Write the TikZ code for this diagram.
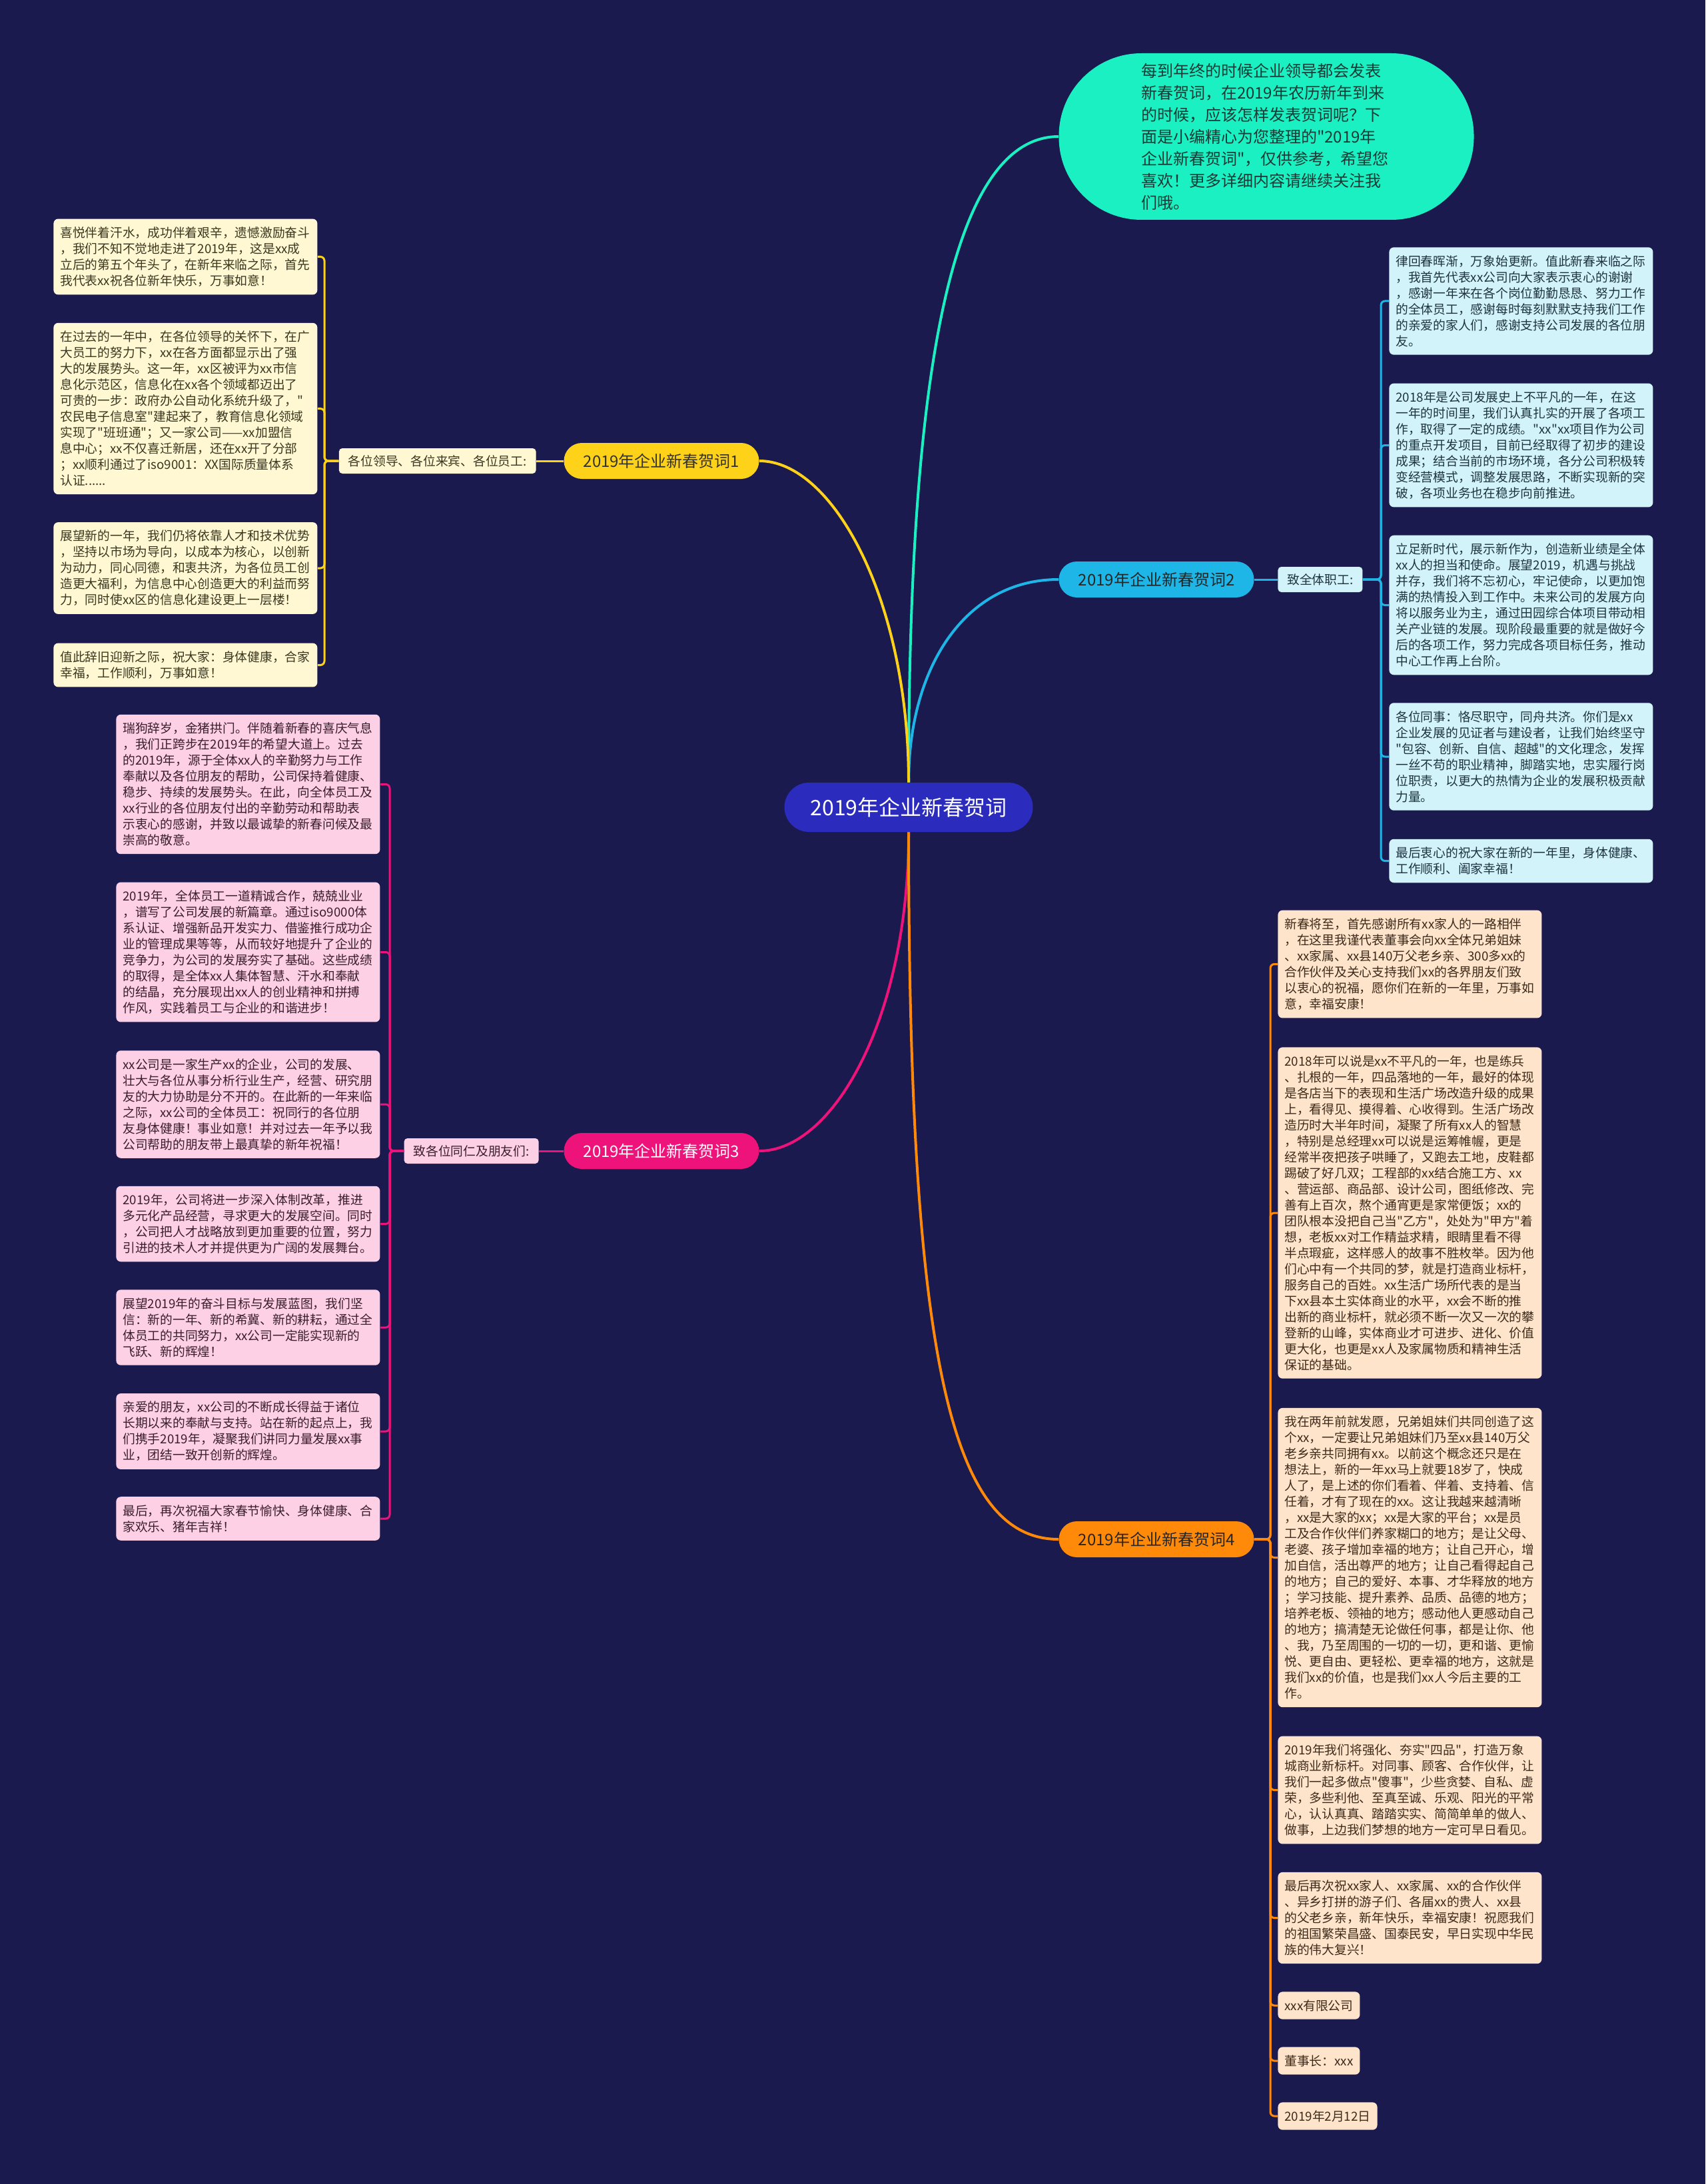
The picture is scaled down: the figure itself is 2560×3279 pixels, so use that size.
\documentclass[tikz,border=0pt]{standalone}
\usepackage{fontspec}
\setmainfont{Noto Sans CJK SC}[Ligatures=TeXOff]
\definecolor{bg}{HTML}{1B1A4F}
\definecolor{cfill}{HTML}{2B2BBE}
\definecolor{efill}{HTML}{1AF0C2}
\definecolor{etext}{HTML}{1A3A36}
\definecolor{cA}{HTML}{FFD21A}
\definecolor{cB}{HTML}{1DB6E6}
\definecolor{cC}{HTML}{EE137B}
\definecolor{cD}{HTML}{FF8A0A}
\definecolor{lA}{HTML}{FFF8D2}
\definecolor{lB}{HTML}{D3F3FB}
\definecolor{lC}{HTML}{FDD0E5}
\definecolor{lD}{HTML}{FEE4CB}
\definecolor{tA}{HTML}{3A3720}
\definecolor{tB}{HTML}{1E3340}
\definecolor{tC}{HTML}{3A1E2C}
\definecolor{tD}{HTML}{3D2A1A}
\newcommand{\leaffont}{\fontsize{9.375pt}{12pt}\selectfont}
\tikzset{
  leafbase/.style={rounded corners=3.5pt, inner xsep=5pt, inner ysep=6pt, text width=188pt, align=left, font=\leaffont, anchor=west},
  smallleaf/.style={rounded corners=3.5pt, inner xsep=5pt, inner ysep=6pt, align=left, font=\leaffont, anchor=west},
  leafA/.style={leafbase, fill=lA, text=tA},
  leafB/.style={leafbase, fill=lB, text=tB},
  leafC/.style={leafbase, fill=lC, text=tC},
  leafD/.style={leafbase, fill=lD, text=tD},
  labelbox/.style={rounded corners=2.5pt, inner xsep=7pt, inner ysep=2pt, minimum height=19pt, font=\leaffont},
  branchbox/.style={rounded corners=13.5pt, minimum width=146.5pt, minimum height=27pt, inner sep=0pt, font=\fontsize{12pt}{14pt}\selectfont},
  mainline/.style={line width=2pt},
  brline/.style={line width=1.5pt, rounded corners=3pt},
}
\begin{document}
\begin{tikzpicture}[x=0.5pt, y=-0.5pt]
\useasboundingbox (0,0) rectangle (2560,3279);
\fill[bg] (0,0) rectangle (2560,3279);

% center
\node[fill=cfill, text=white, rounded corners=18.5pt, minimum width=186.5pt, minimum height=37pt, inner sep=0pt, font=\fontsize{16pt}{18pt}\selectfont] (c) at (1364,1212) {2019年企业新春贺词};

% intro ellipse
\node[fill=efill, text=etext, rounded corners=62pt, minimum width=311.5pt, minimum height=125pt, inner sep=0pt, text width=188pt, align=left, font=\fontsize{12pt}{16.5pt}\selectfont] (e) at (1901,205) {每到年终的时候企业领导都会发表\\新春贺词，在2019年农历新年到来\\的时候，应该怎样发表贺词呢？下\\面是小编精心为您整理的"2019年\\企业新春贺词"，仅供参考，希望您\\喜欢！更多详细内容请继续关注我\\们哦。};

% branch nodes
\node[branchbox, fill=cA, text=black!80] (b1) at (993,692) {2019年企业新春贺词1};
\node[branchbox, fill=cB, text=black!85] (b2) at (1736,870) {2019年企业新春贺词2};
\node[branchbox, fill=cC, text=white] (b3) at (993,1728) {2019年企业新春贺词3};
\node[branchbox, fill=cD, text=black!85] (b4) at (1736,2311) {2019年企业新春贺词4};

% labels
\node[labelbox, fill=lA, text=tA, anchor=east] (lab1) at (805,692) {各位领导、各位来宾、各位员工:};
\node[labelbox, fill=lB, text=tB, anchor=west] (lab2) at (1918,870) {致全体职工:};
\node[labelbox, fill=lC, text=tC, anchor=east] (lab3) at (809,1728) {致各位同仁及朋友们:};

% branch 1 leaves
\node[leafA] (a1) at (80,385.5) {喜悦伴着汗水，成功伴着艰辛，遗憾激励奋斗\\，我们不知不觉地走进了2019年，这是xx成\\立后的第五个年头了，在新年来临之际，首先\\我代表xx祝各位新年快乐，万事如意！};
\node[leafA] (a2) at (80,613.5) {在过去的一年中，在各位领导的关怀下，在广\\大员工的努力下，xx在各方面都显示出了强\\大的发展势头。这一年，xx区被评为xx市信\\息化示范区，信息化在xx各个领域都迈出了\\可贵的一步：政府办公自动化系统升级了，"\\农民电子信息室"建起来了，教育信息化领域\\实现了"班班通"；又一家公司——xx加盟信\\息中心；xx不仅喜迁新居，还在xx开了分部\\；xx顺利通过了iso9001：XX国际质量体系\\认证......};
\node[leafA] (a3) at (80,853) {展望新的一年，我们仍将依靠人才和技术优势\\，坚持以市场为导向，以成本为核心，以创新\\为动力，同心同德，和衷共济，为各位员工创\\造更大福利，为信息中心创造更大的利益而努\\力，同时使xx区的信息化建设更上一层楼！};
\node[leafA] (a4) at (80,998.5) {值此辞旧迎新之际，祝大家：身体健康，合家\\幸福，工作顺利，万事如意！};

% branch 2 leaves
\node[leafB] (bb1) at (2085,452) {律回春晖渐，万象始更新。值此新春来临之际\\，我首先代表xx公司向大家表示衷心的谢谢\\，感谢一年来在各个岗位勤勤恳恳、努力工作\\的全体员工，感谢每时每刻默默支持我们工作\\的亲爱的家人们，感谢支持公司发展的各位朋\\友。};
\node[leafB] (bb2) at (2085,668.5) {2018年是公司发展史上不平凡的一年，在这\\一年的时间里，我们认真扎实的开展了各项工\\作，取得了一定的成绩。"xx"xx项目作为公司\\的重点开发项目，目前已经取得了初步的建设\\成果；结合当前的市场环境，各分公司积极转\\变经营模式，调整发展思路，不断实现新的突\\破，各项业务也在稳步向前推进。};
\node[leafB] (bb3) at (2085,908.5) {立足新时代，展示新作为，创造新业绩是全体\\xx人的担当和使命。展望2019，机遇与挑战\\并存，我们将不忘初心，牢记使命，以更加饱\\满的热情投入到工作中。未来公司的发展方向\\将以服务业为主，通过田园综合体项目带动相\\关产业链的发展。现阶段最重要的就是做好今\\后的各项工作，努力完成各项目标任务，推动\\中心工作再上台阶。};
\node[leafB] (bb4) at (2085,1136) {各位同事：恪尽职守，同舟共济。你们是xx\\企业发展的见证者与建设者，让我们始终坚守\\"包容、创新、自信、超越"的文化理念，发挥\\一丝不苟的职业精神，脚踏实地，忠实履行岗\\位职责，以更大的热情为企业的发展积极贡献\\力量。};
\node[leafB] (bb5) at (2085,1292.5) {最后衷心的祝大家在新的一年里，身体健康、\\工作顺利、阖家幸福！};

% branch 3 leaves
\node[leafC] (c1) at (174,1177.5) {瑞狗辞岁，金猪拱门。伴随着新春的喜庆气息\\，我们正跨步在2019年的希望大道上。过去\\的2019年，源于全体xx人的辛勤努力与工作\\奉献以及各位朋友的帮助，公司保持着健康、\\稳步、持续的发展势头。在此，向全体员工及\\xx行业的各位朋友付出的辛勤劳动和帮助表\\示衷心的感谢，并致以最诚挚的新春问候及最\\崇高的敬意。};
\node[leafC] (c2) at (174,1429.5) {2019年，全体员工一道精诚合作，兢兢业业\\，谱写了公司发展的新篇章。通过iso9000体\\系认证、增强新品开发实力、借鉴推行成功企\\业的管理成果等等，从而较好地提升了企业的\\竞争力，为公司的发展夯实了基础。这些成绩\\的取得，是全体xx人集体智慧、汗水和奉献\\的结晶，充分展现出xx人的创业精神和拼搏\\作风，实践着员工与企业的和谐进步！};
\node[leafC] (c3) at (174,1658) {xx公司是一家生产xx的企业，公司的发展、\\壮大与各位从事分析行业生产，经营、研究朋\\友的大力协助是分不开的。在此新的一年来临\\之际，xx公司的全体员工：祝同行的各位朋\\友身体健康！事业如意！并对过去一年予以我\\公司帮助的朋友带上最真挚的新年祝福！};
\node[leafC] (c4) at (174,1837.5) {2019年，公司将进一步深入体制改革，推进\\多元化产品经营，寻求更大的发展空间。同时\\，公司把人才战略放到更加重要的位置，努力\\引进的技术人才并提供更为广阔的发展舞台。};
\node[leafC] (c5) at (174,1993) {展望2019年的奋斗目标与发展蓝图，我们坚\\信：新的一年、新的希冀、新的耕耘，通过全\\体员工的共同努力，xx公司一定能实现新的\\飞跃、新的辉煌！};
\node[leafC] (c6) at (174,2149) {亲爱的朋友，xx公司的不断成长得益于诸位\\长期以来的奉献与支持。站在新的起点上，我\\们携手2019年，凝聚我们讲同力量发展xx事\\业，团结一致开创新的辉煌。};
\node[leafC] (c7) at (174,2280) {最后，再次祝福大家春节愉快、身体健康、合\\家欢乐、猪年吉祥！};

% branch 4 leaves
\node[leafD] (d1) at (1918,1447.5) {新春将至，首先感谢所有xx家人的一路相伴\\，在这里我谨代表董事会向xx全体兄弟姐妹\\、xx家属、xx县140万父老乡亲、300多xx的\\合作伙伴及关心支持我们xx的各界朋友们致\\以衷心的祝福，愿你们在新的一年里，万事如\\意，幸福安康！};
\node[leafD] (d2) at (1918,1821) {2018年可以说是xx不平凡的一年，也是练兵\\、扎根的一年，四品落地的一年，最好的体现\\是各店当下的表现和生活广场改造升级的成果\\上，看得见、摸得着、心收得到。生活广场改\\造历时大半年时间，凝聚了所有xx人的智慧\\，特别是总经理xx可以说是运筹帷幄，更是\\经常半夜把孩子哄睡了，又跑去工地，皮鞋都\\踢破了好几双；工程部的xx结合施工方、xx\\、营运部、商品部、设计公司，图纸修改、完\\善有上百次，熬个通宵更是家常便饭；xx的\\团队根本没把自己当"乙方"，处处为"甲方"着\\想，老板xx对工作精益求精，眼睛里看不得\\半点瑕疵，这样感人的故事不胜枚举。因为他\\们心中有一个共同的梦，就是打造商业标杆，\\服务自己的百姓。xx生活广场所代表的是当\\下xx县本土实体商业的水平，xx会不断的推\\出新的商业标杆，就必须不断一次又一次的攀\\登新的山峰，实体商业才可进步、进化、价值\\更大化，也更是xx人及家属物质和精神生活\\保证的基础。};
\node[leafD] (d3) at (1918,2338.5) {我在两年前就发愿，兄弟姐妹们共同创造了这\\个xx，一定要让兄弟姐妹们乃至xx县140万父\\老乡亲共同拥有xx。以前这个概念还只是在\\想法上，新的一年xx马上就要18岁了，快成\\人了，是上述的你们看着、伴着、支持着、信\\任着，才有了现在的xx。这让我越来越清晰\\，xx是大家的xx；xx是大家的平台；xx是员\\工及合作伙伴们养家糊口的地方；是让父母、\\老婆、孩子增加幸福的地方；让自己开心，增\\加自信，活出尊严的地方；让自己看得起自己\\的地方；自己的爱好、本事、才华释放的地方\\；学习技能、提升素养、品质、品德的地方；\\培养老板、领袖的地方；感动他人更感动自己\\的地方；搞清楚无论做任何事，都是让你、他\\、我，乃至周围的一切的一切，更和谐、更愉\\悦、更自由、更轻松、更幸福的地方，这就是\\我们xx的价值，也是我们xx人今后主要的工\\作。};
\node[leafD] (d4) at (1918,2687.5) {2019年我们将强化、夯实"四品"，打造万象\\城商业新标杆。对同事、顾客、合作伙伴，让\\我们一起多做点"傻事"，少些贪婪、自私、虚\\荣，多些利他、至真至诚、乐观、阳光的平常\\心，认认真真、踏踏实实、简简单单的做人、\\做事，上边我们梦想的地方一定可早日看见。};
\node[leafD] (d5) at (1918,2879.5) {最后再次祝xx家人、xx家属、xx的合作伙伴\\、异乡打拼的游子们、各届xx的贵人、xx县\\的父老乡亲，新年快乐，幸福安康！祝愿我们\\的祖国繁荣昌盛、国泰民安，早日实现中华民\\族的伟大复兴！};
\node[smallleaf, fill=lD, text=tD] (d6) at (1918,3011) {xxx有限公司};
\node[smallleaf, fill=lD, text=tD] (d7) at (1918,3094) {董事长：xxx};
\node[smallleaf, fill=lD, text=tD] (d8) at (1918,3177) {2019年2月12日};

% main curves
\draw[mainline, efill] (c.north) .. controls (1364,600) and (1420,205) .. (e.west);
\draw[mainline, cB] (c.north) .. controls (1364,1000) and (1450,870) .. (b2.west);
\draw[mainline, cA] (c.north) .. controls (1364,900) and (1250,692) .. (b1.east);
\draw[mainline, cC] (c.south) .. controls (1364,1530) and (1250,1728) .. (b3.east);
\draw[mainline, cD] (c.south) .. controls (1364,2050) and (1430,2311) .. (b4.west);

% short connectors
\draw[brline, cA] (b1.west) -- (lab1.east);
\draw[brline, cB] (b2.east) -- (lab2.west);
\draw[brline, cC] (b3.west) -- (lab3.east);

% bracket points
\coordinate (k1) at (487,692);
\coordinate (k2) at (2073,870);
\coordinate (k3) at (585,1728);
\coordinate (k4) at (1907,2311);

\foreach \n in {a1,a2,a3,a4}{\draw[brline, cA] (lab1.west) -- (k1) |- (\n.east);}
\foreach \n in {bb1,bb2,bb3,bb4,bb5}{\draw[brline, cB] (lab2.east) -- (k2) |- (\n.west);}
\foreach \n in {c1,c2,c3,c4,c5,c6,c7}{\draw[brline, cC] (lab3.west) -- (k3) |- (\n.east);}
\foreach \n in {d1,d2,d3,d4,d5,d6,d7,d8}{\draw[brline, cD] (b4.east) -- (k4) |- (\n.west);}
\end{tikzpicture}
\end{document}
